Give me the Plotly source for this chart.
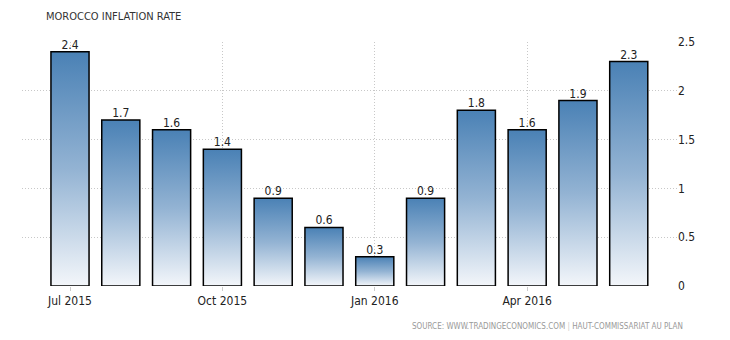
import plotly.graph_objects as go

months = ["Jul 2015", "Aug 2015", "Sep 2015", "Oct 2015", "Nov 2015", "Dec 2015",
          "Jan 2016", "Feb 2016", "Mar 2016", "Apr 2016", "May 2016", "Jun 2016"]
values = [2.4, 1.7, 1.6, 1.4, 0.9, 0.6, 0.3, 0.9, 1.8, 1.6, 1.9, 2.3]
tick_idx = [0, 3, 6, 9]
y_ticks = [0, 0.5, 1, 1.5, 2, 2.5]
y_ticktext = ["0", "0.5", "1", "1.5", "2", "2.5"]

FONT = "DejaVu Sans Condensed, DejaVu Sans"
half = 0.375
fig = go.Figure()
for i, v in enumerate(values):
    fig.add_trace(go.Scatter(
        x=[i - half, i + half, i + half, i - half, i - half],
        y=[0, 0, v, v, 0],
        mode="lines", fill="toself",
        line=dict(color="#000000", width=1.5),
        fillgradient=dict(type="vertical",
                          colorscale=[[0, "#f3f6fa"], [0.5, "#93b3d3"], [1, "#4a81b5"]]),
        hoverinfo="skip", showlegend=False))

fig.add_trace(go.Scatter(
    x=list(range(len(values))), y=values, mode="text",
    text=[f"{v:g}" for v in values], textposition="top center",
    textfont=dict(family=FONT, size=12, color="#222222"),
    cliponaxis=False, showlegend=False, hoverinfo="skip"))

fig.update_layout(
    width=730, height=340,
    margin=dict(l=22, r=53, t=42, b=54),
    paper_bgcolor="white", plot_bgcolor="white",
    font=dict(family=FONT, size=12, color="#222222"),
    xaxis=dict(range=[-0.945, 11.95], tickvals=tick_idx,
               ticktext=[months[i] for i in tick_idx],
               showgrid=True, gridcolor="#c8c8c8", griddash="1px,2px", gridwidth=1,
               ticks="outside", ticklen=4, tickcolor="#cccccc",
               zeroline=False, showline=False,
               tickfont=dict(family=FONT, size=12, color="#222222")),
    yaxis=dict(range=[0, 2.5], side="right", tickvals=y_ticks, ticktext=y_ticktext,
               showgrid=True, gridcolor="#c8c8c8", griddash="1px,2px", gridwidth=1,
               zeroline=False, showline=False, ticks="",
               tickfont=dict(family=FONT, size=12, color="#222222")),
    annotations=[
        dict(text="MOROCCO INFLATION RATE", x=44, y=17,
             showarrow=False, xanchor="left", yanchor="middle",
             font=dict(family=FONT, size=11, color="#333333")),
        dict(text="SOURCE: WWW.TRADINGECONOMICS.COM <span style='color:#cccccc'>|</span> HAUT-COMMISSARIAT AU PLAN",
             x=685, y=326, showarrow=False, xanchor="right", yanchor="middle",
             font=dict(family=FONT, size=8, color="#999999")),
    ],
)
pw, ph = 730 - 22 - 53, 340 - 42 - 54
for a in fig.layout.annotations:
    a.xref = "paper"; a.yref = "paper"
    a.x = (a.x - 22) / pw
    a.y = 1 - (a.y - 42) / ph

fig.write_html("out.html")
